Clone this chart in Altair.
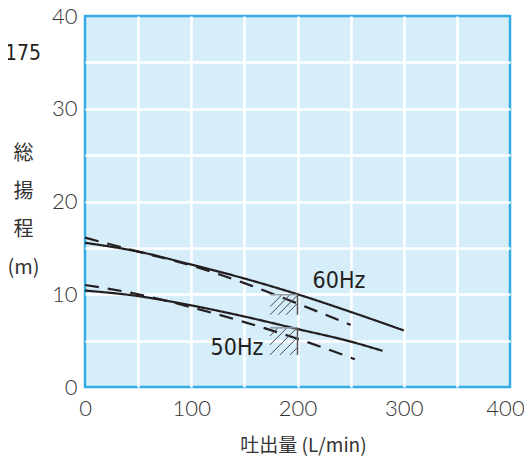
import altair as alt
import pandas as pd

# ---- pump curves (flow L/min, total head m) ----
q60_solid = [0, 50, 100, 150, 200, 250, 300]
h60_solid = [15.55, 14.6, 13.2, 11.7, 10.0, 8.1, 6.1]
q60_dash = [0, 50, 100, 150, 200, 250]
h60_dash = [16.1, 14.6, 13.1, 11.2, 9.0, 6.7]
q50_solid = [0, 50, 100, 150, 200, 250, 280]
h50_solid = [10.4, 9.8, 8.8, 7.6, 6.25, 4.9, 3.9]
q50_dash = [0, 50, 100, 150, 200, 254]
h50_dash = [11.0, 10.0, 8.6, 7.0, 5.2, 3.0]

# ---- hatched operating zones (segments) ----
hatch_q1 = [174.1, 174.1, 181.6, 189.2, 174.1, 174.1, 174.1, 183.5, 192.9]
hatch_h1 = [8.65, 7.78, 7.78, 7.78, 5.51, 4.54, 3.46, 3.46, 3.46]
hatch_q2 = [185.4, 192.9, 199.5, 199.5, 181.6, 190.1, 199.5, 199.5, 199.5]
hatch_h2 = [9.95, 9.95, 9.84, 8.97, 6.38, 6.38, 6.38, 5.30, 4.22]
# zone edges
edge_top_q1 = [174.1, 174.1]
edge_top_q2 = [200, 200]
edge_top_h = [9.95, 6.38]
edge_right_q = [200, 200]
edge_right_h1 = [7.78, 3.46]
edge_right_h2 = [9.95, 6.38]

# ---- annotations ----
freq_labels = ["60Hz", "50Hz"]
freq_q = [239, 143]
freq_h = [11.46, 4.16]

rows = []
for name, style, qs, hs in [
    ("60 solid", "solid", q60_solid, h60_solid),
    ("60 dash", "dashed", q60_dash, h60_dash),
    ("50 solid", "solid", q50_solid, h50_solid),
    ("50 dash", "dashed", q50_dash, h50_dash),
]:
    for q, h in zip(qs, hs):
        rows.append({"series": name, "style": style, "q": q, "h": h})
curves = pd.DataFrame(rows)

hatch = pd.DataFrame({"q": hatch_q1, "h": hatch_h1, "q2": hatch_q2, "h2": hatch_h2})
top_edges = pd.DataFrame({"q": edge_top_q1, "q2": edge_top_q2, "h": edge_top_h})
right_edges = pd.DataFrame({"q": edge_right_q, "h": edge_right_h1, "h2": edge_right_h2})
labels = pd.DataFrame({"label": freq_labels, "q": freq_q, "h": freq_h})
model = pd.DataFrame({"t": ["-175"]})

LABEL_FONT = "Lato"
CJK = "Noto Sans CJK JP"
NARROW = "DejaVu Sans Condensed, Roboto, sans-serif"
INK = "#231f20"

edge_hide = "datum.value == 0 || datum.value == 400 || datum.value == 40"

x_axis = alt.Axis(
    values=list(range(0, 401, 50)),
    labelExpr="datum.value % 100 == 0 ? datum.label : ''",
    grid=True, gridColor="white", gridWidth=2.5,
    gridOpacity={"condition": {"test": edge_hide, "value": 0}, "value": 1},
    domain=False, ticks=False, tickSize=0, labelFlush=False,
    labelOffset={"condition": {"test": "datum.value == 400", "value": -5}, "value": 0},
    labelFont=LABEL_FONT, labelFontSize=22, labelFontWeight=300,
    labelColor="#333333", labelPadding=11,
    title="吐出量 (L/min)", titleFont=CJK, titleFontSize=19,
    titleFontWeight="normal", titleColor="#333333",
    titleX=218, titleY=58, titleBaseline="middle", titleAlign="center",
)
y_axis = alt.Axis(
    values=list(range(0, 41, 5)),
    labelExpr="datum.value % 10 == 0 ? datum.label : ''",
    grid=True, gridColor="white", gridWidth=2.5,
    gridOpacity={"condition": {"test": edge_hide, "value": 0}, "value": 1},
    domain=False, ticks=False, tickSize=0, labelFlush=False,
    labelFont=LABEL_FONT, labelFontSize=22, labelFontWeight=300,
    labelColor="#333333", labelPadding=8,
    title=["総", "揚", "程", "(m)"], titleFont=CJK, titleFontSize=20,
    titleFontWeight="normal", titleColor="#333333", titleAngle=0,
    titleX=-62, titleY=137, titleBaseline="middle", titleAlign="center",
    titleLineHeight=38.3,
)
xs = alt.Scale(domain=[0, 400], nice=False)
ys = alt.Scale(domain=[0, 40], nice=False)


def X(field="q"):
    return alt.X(f"{field}:Q", scale=xs, axis=x_axis)


def Y(field="h"):
    return alt.Y(f"{field}:Q", scale=ys, axis=y_axis)


lines = alt.Chart(curves).mark_line(
    color=INK, strokeWidth=2.2, interpolate="monotone"
).encode(
    x=X(), y=Y(), detail="series:N",
    strokeDash=alt.StrokeDash(
        "style:N",
        scale=alt.Scale(domain=["solid", "dashed"], range=[[1, 0], [14, 9]]),
        legend=None,
    ),
)

hatch_layer = alt.Chart(hatch).mark_rule(color="#4a4a4a", strokeWidth=1).encode(
    x=X(), y=Y(), x2="q2:Q", y2="h2:Q"
)
top_layer = alt.Chart(top_edges).mark_rule(color="#8c9aa6", strokeWidth=1.5).encode(
    x=X(), x2="q2:Q", y=Y()
)
right_layer = alt.Chart(right_edges).mark_rule(color="#555555", strokeWidth=1.5).encode(
    x=X(), y=Y(), y2="h2:Q"
)

text_layer = alt.Chart(labels).mark_text(
    font=NARROW, fontSize=23, color=INK, baseline="middle", align="center"
).encode(x=X(), y=Y(), text="label:N")

model_layer = alt.Chart(model).mark_text(
    font=NARROW, fontSize=21, color=INK, align="right",
    baseline="middle", clip=False,
).encode(x=alt.value(-44), y=alt.value(38), text="t:N")

chart = alt.layer(
    lines, hatch_layer, top_layer, right_layer, text_layer, model_layer
).properties(
    width=425, height=371,
    autosize=alt.AutoSizeParams(type="none"),
    padding={"left": 77, "top": 8, "right": 14, "bottom": 70},
    background="white",
).configure_view(
    fill="#d6edfa", stroke="#35ade4", strokeWidth=2.5
)

chart.save("out.html", embed_options={"renderer": "svg", "actions": False})
